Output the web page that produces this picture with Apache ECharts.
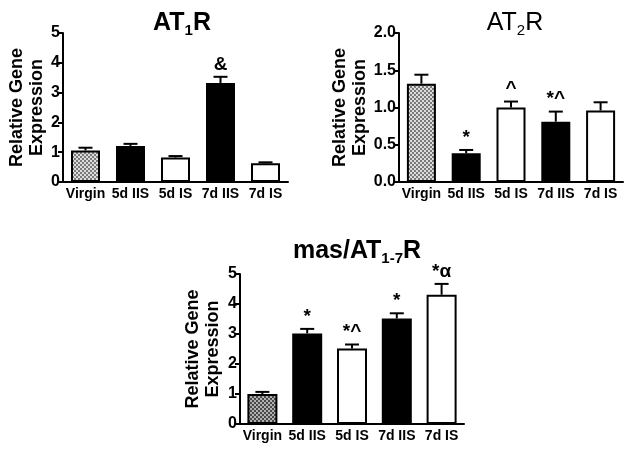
<!DOCTYPE html>
<html>
<head>
<meta charset="utf-8">
<script src="https://cdn.jsdelivr.net/npm/echarts@6/dist/echarts.min.js"></script>
<style>
  html, body { margin: 0; padding: 0; background: #fff; }
  #main { width: 631px; height: 450px; }
</style>
</head>
<body>
<div id="main"></div>
<script>
// categories + values
var categories = ['Virgin', '5d IIS', '5d IS', '7d IIS', '7d IS'];

var at1Mean = [1.06, 1.21, 0.82, 3.32, 0.63];
var at1Err = [0.09, 0.07, 0.05, 0.21, 0.03];
var at1Marks = ['', '', '', '&', ''];

var at2Mean = [1.32, 0.385, 1.0, 0.81, 0.96];
var at2Err = [0.12, 0.045, 0.08, 0.135, 0.11];
var at2Marks = ['', '*', '^', '*^', ''];

var masMean = [1.0, 3.02, 2.52, 3.52, 4.31];
var masErr = [0.07, 0.15, 0.13, 0.17, 0.36];
var masMarks = ['', '*', '*^', '*', '*\u03b1'];

var FONT = '"Liberation Sans", Arial, sans-serif';

// dithered grey fill for the Virgin bars
function checker(c1, c2) {
	var cv = document.createElement('canvas');
	cv.width = 4; cv.height = 4;
	var ctx = cv.getContext('2d');
	ctx.fillStyle = c2;
	ctx.fillRect(0, 0, 4, 4);
	ctx.fillStyle = c1;
	ctx.fillRect(0, 0, 2, 2);
	ctx.fillRect(2, 2, 2, 2);
	return { image: cv, repeat: 'repeat' };
}
var lightPat = checker('#7a7a7a', '#dcdcdc');
var darkPat = checker('#4a4a4a', '#b0b0b0');

function barData(vals, pat) {
	var fills = [pat, '#000', '#fff', '#000', '#fff'];
	return vals.map(function (v, i) {
		return { value: v, itemStyle: { color: fills[i] } };
	});
}

function barSeries(idx, vals, pat, w) {
	return {
		type: 'bar',
		xAxisIndex: idx,
		yAxisIndex: idx,
		barWidth: w,
		data: barData(vals, pat),
		itemStyle: { borderColor: '#000', borderWidth: 2 },
		animation: false
	};
}

// upward-only error bar with a cap + significance mark above it
function errSeries(idx, mean, err, marks) {
	return {
		type: 'custom',
		xAxisIndex: idx,
		yAxisIndex: idx,
		z: 5,
		animation: false,
		data: mean.map(function (m, i) { return [i, m, m + err[i]]; }),
		renderItem: function (params, api) {
			var base = api.coord([api.value(0), api.value(1)]);
			var top = api.coord([api.value(0), api.value(2)]);
			var x = base[0];
			var kids = [
				{ type: 'line', shape: { x1: x, y1: base[1], x2: x, y2: top[1] },
				  style: { stroke: '#000', lineWidth: 2 } },
				{ type: 'line', shape: { x1: x - 7, y1: top[1], x2: x + 7, y2: top[1] },
				  style: { stroke: '#000', lineWidth: 2 } }
			];
			var mk = marks[params.dataIndex];
			if (mk) {
				kids.push({
					type: 'text',
					style: {
						text: mk, x: x, y: top[1] - 3,
						align: 'center', verticalAlign: 'bottom',
						font: (mk === '&' ? 'bold 19px ' : 'bold 19px ') + FONT,
						fill: '#000'
					}
				});
			}
			return { type: 'group', children: kids };
		}
	};
}

function xAx(idx) {
	return {
		type: 'category',
		gridIndex: idx,
		data: categories,
		axisLine: { lineStyle: { color: '#000', width: 2 } },
		axisTick: { alignWithLabel: true, length: 5, lineStyle: { color: '#000', width: 2 } },
		axisLabel: { color: '#000', fontWeight: 'bold', fontSize: 14, fontFamily: FONT, margin: 5, interval: 0 }
	};
}

function yAx(idx, max, step, gap, dec) {
	return {
		type: 'value',
		gridIndex: idx,
		min: 0, max: max, interval: step,
		name: 'Relative Gene\nExpression',
		nameLocation: 'middle',
		nameGap: gap,
		nameTextStyle: { color: '#000', fontWeight: 'bold', fontSize: 18, fontFamily: FONT, lineHeight: 20 },
		splitLine: { show: false },
		axisLine: { show: true, lineStyle: { color: '#000', width: 2 } },
		axisTick: { show: true, length: 5, lineStyle: { color: '#000', width: 2 } },
		axisLabel: {
			color: '#000', fontWeight: 'bold', fontSize: 16, fontFamily: FONT, margin: 3,
			formatter: function (v) { return v.toFixed(dec); }
		}
	};
}

function titleRich(bold) {
	var w = bold ? 'bold' : 'normal';
	return {
		a: { fontSize: 25, fontWeight: w, fontFamily: FONT, color: '#000', lineHeight: 30 },
		s: { fontSize: 15, fontWeight: w, fontFamily: FONT, color: '#000', lineHeight: 15, verticalAlign: 'bottom' }
	};
}

var myChart = echarts.init(document.getElementById('main'), null, { renderer: 'canvas' });

var option = {
	backgroundColor: '#fff',
	animation: false,
	title: [
		{ text: '{a|AT}{s|1}{a|R}', left: 177, top: 3, textAlign: 'center', textStyle: { rich: titleRich(true) } },
		{ text: '{a|AT}{s|2}{a|R}', left: 510, top: 3, textAlign: 'center', textStyle: { rich: titleRich(false) } },
		{ text: '{a|mas/AT}{s|1-7}{a|R}', left: 352, top: 231, textAlign: 'center', textStyle: { rich: titleRich(true) } }
	],
	grid: [
		{ left: 63, top: 33, width: 225, height: 149 },
		{ left: 399, top: 33, width: 224, height: 149 },
		{ left: 240, top: 274, width: 224, height: 150 }
	],
	xAxis: [xAx(0), xAx(1), xAx(2)],
	yAxis: [yAx(0, 5, 1, 14, 0), yAx(1, 2, 0.5, 27, 1), yAx(2, 5, 1, 17, 0)],
	series: [
		barSeries(0, at1Mean, lightPat, 29),
		errSeries(0, at1Mean, at1Err, at1Marks),
		barSeries(1, at2Mean, lightPat, 29),
		errSeries(1, at2Mean, at2Err, at2Marks),
		barSeries(2, masMean, darkPat, 30),
		errSeries(2, masMean, masErr, masMarks)
	]
};

myChart.setOption(option);
</script>
</body>
</html>
